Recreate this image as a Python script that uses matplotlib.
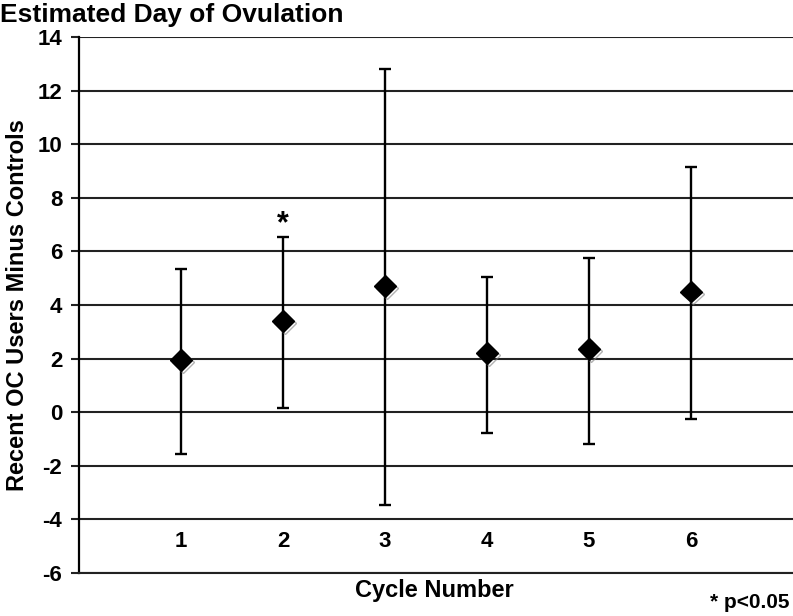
import matplotlib.pyplot as plt
import matplotlib.patheffects as pe
import numpy as np

# values
cycles = [1, 2, 3, 4, 5, 6]
means = [1.95, 3.4, 4.7, 2.2, 2.35, 4.5]
upper = [5.35, 6.55, 12.8, 5.05, 5.75, 9.15]
lower = [-1.55, 0.15, -3.45, -0.78, -1.18, -0.27]
yticks = list(range(-6, 15, 2))
signif = [2]

plt.rcParams['font.family'] = ['Liberation Sans', 'DejaVu Sans']

fig = plt.figure(figsize=(7.93, 6.16), dpi=100)
ax = fig.add_axes([0.0996, 0.0698, 0.9004, 0.8702])

m = np.array(means)
err = [m - np.array(lower), np.array(upper) - m]
ax.errorbar(cycles, means, yerr=err, fmt='none', ecolor='black',
            elinewidth=1.7, capsize=4, capthick=1.7, zorder=3)
ax.plot(cycles, means, linestyle='none', marker='D', markersize=11,
        color='black', zorder=4,
        path_effects=[pe.SimpleLineShadow(offset=(1.5, -1.5), shadow_color='gray', alpha=0.6), pe.Normal()])

for c in signif:
    ax.text(c, upper[c - 1] + 0.45, '*', ha='center', va='center',
            fontsize=22, fontweight='bold')

ax.set_xlim(0, 7)
ax.set_ylim(-6, 14)
ax.set_yticks(yticks)
ax.set_yticklabels([str(v) for v in yticks], fontsize=16, fontweight='bold')
ax.yaxis.grid(True, color='#222222', linewidth=1.5)
ax.set_axisbelow(True)
ax.tick_params(axis='y', length=6, width=1.5, color='#222222', pad=6)

ax.set_xticks(cycles)
ax.set_xticklabels([str(c) for c in cycles], fontsize=16, fontweight='bold')
ax.tick_params(axis='x', length=0, pad=-30)

for s in ['top', 'right']:
    ax.spines[s].set_visible(False)
ax.spines['left'].set_linewidth(1.6)
ax.spines['bottom'].set_linewidth(1.5)
ax.spines['bottom'].set_color('#222222')

ax.set_ylabel('Recent OC Users Minus Controls', fontsize=17,
              fontweight='bold', labelpad=6)
fig.text(0.548, 0.042, 'Cycle Number', ha='center', va='center',
         fontsize=17, fontweight='bold')
fig.text(0.996, 0.022, '* p<0.05', ha='right', va='center',
         fontsize=15, fontweight='bold')
fig.text(0.0, 0.976, 'Estimated Day of Ovulation', ha='left', va='center',
         fontsize=19, fontweight='bold')

fig.savefig('out.png', dpi=100)
